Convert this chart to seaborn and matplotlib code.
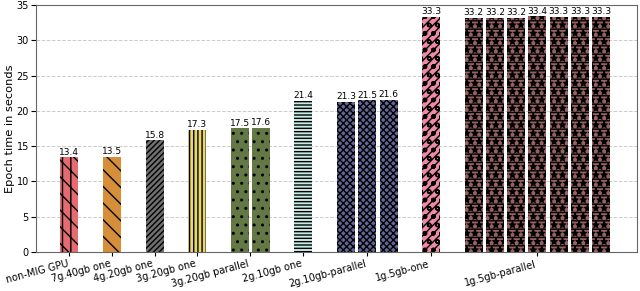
import numpy as np
import pandas as pd
import matplotlib
matplotlib.use("Agg")
from matplotlib import pyplot as plt
import seaborn as sns

# data
configs = ['non-MIG GPU', '7g.40gb one', '4g.20gb one', '3g.20gb one',
           '3g.20gb parallel', '2g.10gb one', '2g.10gb-parallel',
           '1g.5gb-one', '1g.5gb-parallel']
epoch_times = [[13.4], [13.5], [15.8], [17.3], [17.5, 17.6], [21.4],
               [21.3, 21.5, 21.6], [33.3],
               [33.2, 33.2, 33.2, 33.4, 33.3, 33.3, 33.3]]

colors = ['#f7575f', '#f0921e', '#707070', '#fae45e', '#66803c',
          '#bdf3e6', '#5a5fa0', '#ff789f', '#9c5a5a']
hatches = ['||' + '\\' * 2, '\\' * 2, '/' * 6, '||||', '..', '-----',
           'xxxxx', '////oo', '**--']

# one empty slot between groups
rows = []
tick_pos = []
slot = 0
for name, times in zip(configs, epoch_times):
    tick_pos.append(slot + (len(times) - 1) / 2)
    for t in times:
        rows.append({'pos': slot, 'config': name, 'time': t})
        slot += 1
    slot += 1
df = pd.DataFrame(rows)

plt.rcParams['hatch.linewidth'] = 1.0
fig, ax = plt.subplots(figsize=(6.4, 2.91), dpi=100)
sns.barplot(data=df, x='pos', y='time', hue='config', hue_order=configs,
            palette=dict(zip(configs, colors)), native_scale=True,
            dodge=False, width=0.85, legend=False, errorbar=None, ax=ax)

hatch_of = dict(zip(configs, hatches))
for cont, name in zip(ax.containers, configs):
    for p in cont:
        p.set_hatch(hatch_of[name])
        p.set_edgecolor('black')
        p.set_linewidth(0)
    ax.bar_label(cont, fmt='%.1f', fontsize=6.5, padding=0.5)

ax.set_xlim(-1.55, 26.67)
ax.set_ylim(0, 35)
ax.set_yticks(np.arange(0, 36, 5))
ax.set_xticks(tick_pos)
ax.set_xticklabels(configs, rotation=15, ha='right', fontsize=7)
ax.tick_params(axis='y', labelsize=7, pad=2)
ax.tick_params(axis='x', pad=2, length=3)
ax.set_xlabel('')
ax.set_ylabel('Epoch time in seconds', fontsize=8.2)
ax.yaxis.set_label_coords(-0.035, 0.5)
ax.yaxis.grid(True, linestyle='--', color='#cccccc', linewidth=0.7)
ax.set_axisbelow(True)
for s in ax.spines.values():
    s.set_color('#666666')

plt.subplots_adjust(left=0.057, right=0.995, bottom=0.134, top=0.983)
plt.savefig('out.png', dpi=100)
